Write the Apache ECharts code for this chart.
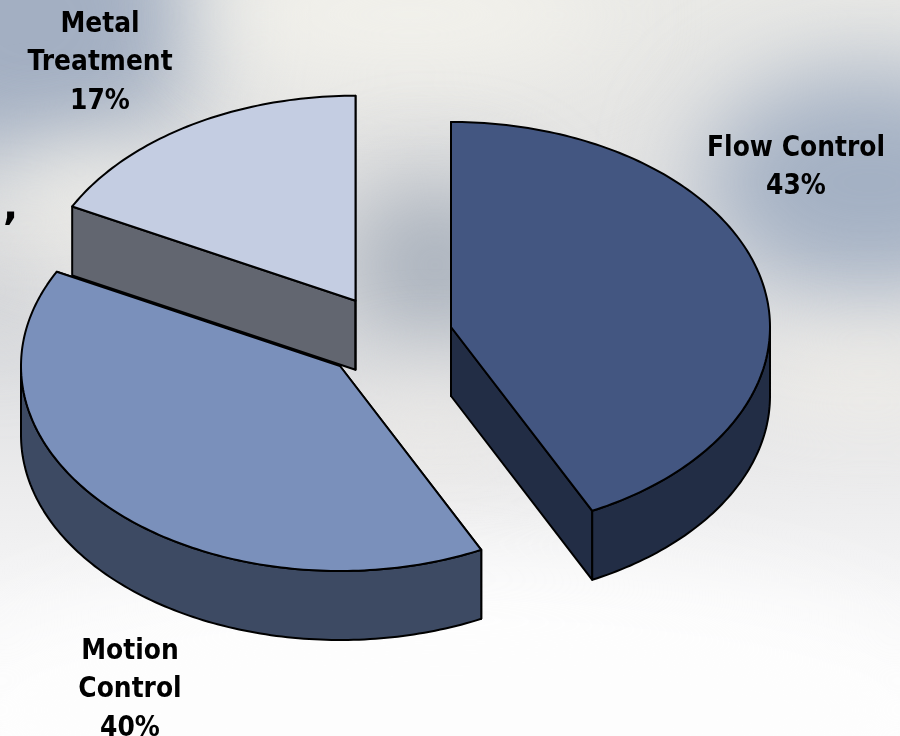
<!DOCTYPE html>
<html>
<head>
<meta charset="utf-8">
<script src="https://cdn.jsdelivr.net/npm/echarts@6/dist/echarts.min.js"></script>
<style>
html,body{margin:0;padding:0;width:900px;height:736px;overflow:hidden;background:#f4f4f4}
#sky{position:absolute;left:0;top:0;width:900px;height:736px;overflow:hidden;
background:linear-gradient(180deg,#e9e9e6 0%,#e2e2e2 30%,#dfe0e2 50%,#ebebec 65%,#f6f6f7 82%,#fbfbfb 100%)}
#sky div{position:absolute;border-radius:50%;filter:blur(48px)}
#main{position:absolute;left:0;top:0;width:900px;height:736px}
</style>
</head>
<body>
<div id="sky">
  <div style="left:-140px;top:-140px;width:340px;height:320px;background:#a3afc2"></div>
  <div style="left:-40px;top:245px;width:70px;height:90px;background:#bfc3ca"></div>
  <div style="left:-10px;top:150px;width:180px;height:90px;background:#f5f3ec"></div>
  <div style="left:200px;top:-40px;width:420px;height:110px;background:#f3f2ec"></div>
  <div style="left:700px;top:70px;width:340px;height:225px;background:#a3b0c3"></div>
  <div style="left:340px;top:180px;width:190px;height:170px;background:#a9b1bc"></div>
  <div style="left:720px;top:345px;width:300px;height:55px;background:#fbf7ee"></div>
  <div style="left:340px;top:380px;width:180px;height:90px;background:#ebe9e6"></div>
  <div style="left:-80px;top:560px;width:1060px;height:300px;background:#fdfdfd"></div>
</div>
<div id="main"></div>
<script>
// Data
const categories = ['Flow Control', 'Motion Control', 'Metal Treatment'];
const shareValues = [42.7, 39.9, 17.4];
const labelLines = [['Flow Control'], ['Motion', 'Control'], ['Metal', 'Treatment']];

// Styles and layout (not data)
const topColors = ['#435681', '#7A90BB', '#C4CDE2'];
const sideColors = ['#222D45', '#3D4A63', '#626670'];
const sliceCentres = [[451, 327], [340, 366], [355.5, 300.7]];
const labelCentres = [[796, 168], [130, 690], [100, 63]];
const paintOrder = [2, 1, 0];
const radiusX = 319, radiusY = 205, depth = 69;
const labelFont = '"DejaVu Sans", sans-serif';

const total = shareValues.reduce((s, v) => s + v, 0);
const startAngles = [];
shareValues.reduce((acc, v, i) => { startAngles[i] = acc; return acc + v / total * 360; }, 0);

function rim(c, deg, drop) {
  const t = deg * Math.PI / 180;
  return [c[0] + radiusX * Math.sin(t), c[1] - radiusY * Math.cos(t) + (drop || 0)];
}
function arc(c, from, to, drop) {
  const pts = [];
  const n = Math.max(2, Math.ceil(Math.abs(to - from)));
  for (let i = 0; i <= n; i++) pts.push(rim(c, from + (to - from) * i / n, drop));
  return pts;
}

const ink = { stroke: '#000', lineWidth: 2, lineJoin: 'round' };

function renderSlice(params, api) {
  const idx = api.value(0);
  const c = sliceCentres[idx];
  const from = startAngles[idx];
  const to = from + shareValues[idx] / total * 360;
  const toPx = p => api.coord(p);
  const poly = (pts, fill) => ({
    type: 'polygon',
    shape: { points: pts.map(toPx) },
    style: Object.assign({ fill }, ink)
  });
  const children = [];
  const below = [c[0], c[1] + depth];
  children.push(poly([c, rim(c, from), rim(c, from, depth), below], sideColors[idx]));
  children.push(poly([c, rim(c, to), rim(c, to, depth), below], sideColors[idx]));
  const lo = Math.max(from, 90), hi = Math.min(to, 270);
  if (hi > lo) {
    children.push(poly(arc(c, lo, hi, 0).concat(arc(c, hi, lo, depth)), sideColors[idx]));
  }
  children.push(poly([c].concat(arc(c, from, to, 0)), topColors[idx]));
  const pos = toPx(labelCentres[idx]);
  const text = labelLines[idx].concat(Math.round(shareValues[idx]) + '%').join('\n');
  children.push({
    type: 'text',
    x: pos[0], y: pos[1],
    scaleY: 1.1,
    style: {
      text, fill: '#000', align: 'center', verticalAlign: 'middle',
      font: 'bold 25px ' + labelFont, lineHeight: 35
    }
  });
  return { type: 'group', children };
}

const chart = echarts.init(document.getElementById('main'), null, { width: 900, height: 736 });
chart.setOption({
  animation: false,
  backgroundColor: 'transparent',
  grid: { left: 0, right: 0, top: 0, bottom: 0 },
  xAxis: { type: 'value', min: 0, max: 900, show: false },
  yAxis: { type: 'value', min: 0, max: 736, inverse: true, show: false },
  graphic: [{
    type: 'text', left: 3, top: 189, silent: true,
    style: { text: ',', fill: '#000', font: 'bold 40px ' + labelFont }
  }],
  series: [{
    type: 'custom',
    coordinateSystem: 'cartesian2d',
    renderItem: renderSlice,
    silent: true,
    clip: false,
    encode: { x: 0 },
    data: paintOrder.map(i => ({ name: categories[i], value: [i, shareValues[i]] }))
  }]
});
</script>
</body>
</html>
